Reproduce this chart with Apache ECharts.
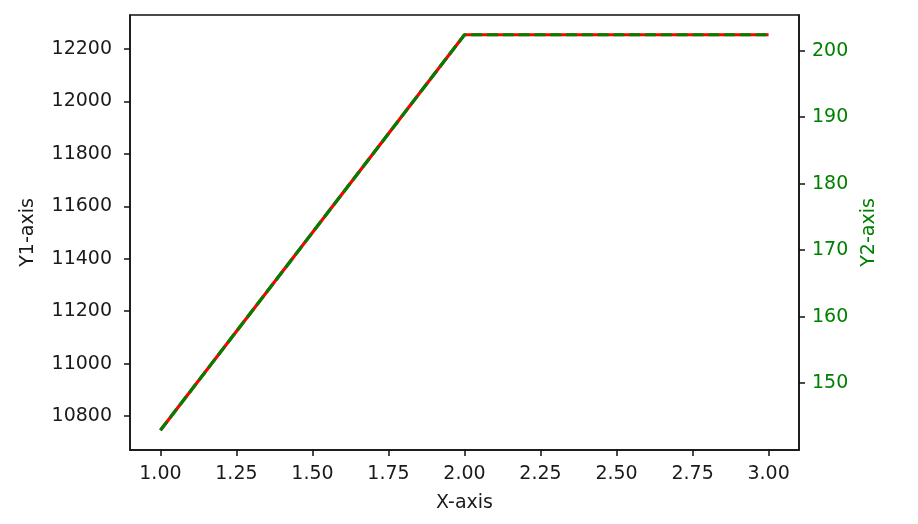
<!DOCTYPE html>
<html>
<head>
<meta charset="utf-8">
<script src="https://cdn.jsdelivr.net/npm/echarts@6/dist/echarts.min.js"></script>
<style>
html,body{margin:0;padding:0;background:#fff;}
#chart{width:918px;height:524px;}
</style>
</head>
<body>
<div id="chart"></div>
<script>
// Data
var xValues = [1, 2, 3];
var y1Values = [10746, 12254, 12254];
var y2Values = [142.9, 202.4, 202.4];
var xTicks = [1.00, 1.25, 1.50, 1.75, 2.00, 2.25, 2.50, 2.75, 3.00];
var y1Ticks = [10800, 11000, 11200, 11400, 11600, 11800, 12000, 12200];
var y2Ticks = [150, 160, 170, 180, 190, 200];

function padRange(arr) {
  var mn = Math.min.apply(null, arr), mx = Math.max.apply(null, arr);
  var p = (mx - mn) * 0.05;
  return [mn - p, mx + p];
}
var xr = padRange(xValues), y1r = padRange(y1Values), y2r = padRange(y2Values);

var FONT = 'DejaVu Sans';
var FS = 19;
var TXT = '#1a1a1a';
var GREEN = '#008000';

var chart = echarts.init(document.getElementById('chart'), null, {renderer: 'canvas'});
chart.setOption({
  animation: false,
  backgroundColor: '#fff',
  grid: {left: 130, right: 119, top: 15, bottom: 74, show: true, borderColor: '#111', borderWidth: 1.5, backgroundColor: 'transparent'},
  xAxis: {
    type: 'value', min: xr[0], max: xr[1],
    name: 'X-axis', nameLocation: 'middle', nameGap: 44,
    nameTextStyle: {fontFamily: FONT, fontSize: FS, color: TXT},
    axisLine: {show: true, onZero: false, lineStyle: {color: '#111', width: 1.5}},
    axisTick: {show: true, length: 6, lineStyle: {color: '#111', width: 1.5}, customValues: xTicks},
    axisLabel: {fontFamily: FONT, fontSize: FS, color: TXT, margin: 15, customValues: xTicks,
      formatter: function (v) { return v.toFixed(2); }},
    splitLine: {show: false}
  },
  yAxis: [{
    type: 'value', min: y1r[0], max: y1r[1], position: 'left',
    name: 'Y1-axis', nameLocation: 'middle', nameGap: 92, nameRotate: 90,
    nameTextStyle: {fontFamily: FONT, fontSize: FS, color: TXT},
    axisLine: {show: true, lineStyle: {color: '#111', width: 1.5}},
    axisTick: {show: true, length: 6, lineStyle: {color: '#111', width: 1.5}, customValues: y1Ticks},
    axisLabel: {fontFamily: FONT, fontSize: FS, color: TXT, margin: 18, customValues: y1Ticks,
      formatter: function (v) { return String(v); }},
    splitLine: {show: false}
  }, {
    type: 'value', min: y2r[0], max: y2r[1], position: 'right',
    name: 'Y2-axis', nameLocation: 'middle', nameGap: 56, nameRotate: 90,
    nameTextStyle: {fontFamily: FONT, fontSize: FS, color: GREEN},
    axisLine: {show: true, lineStyle: {color: '#111', width: 1.5}},
    axisTick: {show: true, length: 6, lineStyle: {color: '#111', width: 1.5}, customValues: y2Ticks},
    axisLabel: {fontFamily: FONT, fontSize: FS, color: GREEN, margin: 13, customValues: y2Ticks,
      formatter: function (v) { return String(v); }},
    splitLine: {show: false}
  }],
  series: [{
    type: 'line', yAxisIndex: 0, showSymbol: false, silent: true,
    data: xValues.map(function (x, i) { return [x, y1Values[i]]; }),
    lineStyle: {color: '#ff0000', width: 3.2, type: 'solid'}
  }, {
    type: 'line', yAxisIndex: 1, showSymbol: false, silent: true,
    data: xValues.map(function (x, i) { return [x, y2Values[i]]; }),
    lineStyle: {color: GREEN, width: 3.2, type: [11, 4.8]}
  }]
});
</script>
</body>
</html>
